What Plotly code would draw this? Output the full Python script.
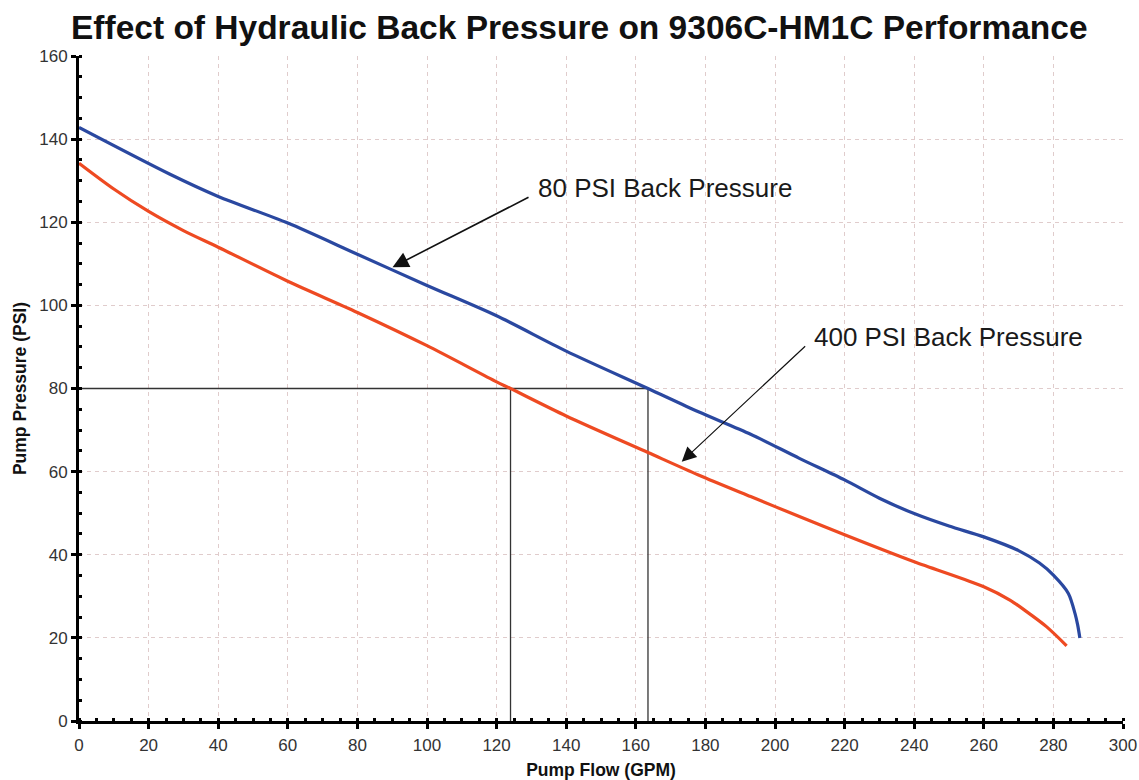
import plotly.graph_objects as go

# ---- Data ----
flow_80psi = [0, 26, 40, 60, 80, 100, 120, 140, 163.5, 178, 193, 207,
              220, 230, 240, 250, 260, 270, 276, 280, 284.3, 286.2, 287, 287.6]
pres_80psi = [142.8, 131.6, 126.2, 119.8, 112.3, 104.8, 97.5, 89.0, 80.0, 74.4,
              69.0, 63.2, 58.0, 53.6, 49.9, 46.9, 44.3, 41.0, 38.0, 35.1, 30.7,
              25.9, 23.0, 20.0]

flow_400psi = [0, 10, 20, 30, 40, 60, 80, 100, 120, 124, 140, 163.5, 178, 193,
               207, 220, 240, 260, 267.5, 272, 278, 283.8]
pres_400psi = [134.2, 128.0, 122.6, 118.0, 114.0, 105.8, 98.3, 90.3, 81.6, 80.0,
               73.4, 64.6, 59.2, 54.0, 49.2, 44.8, 38.3, 32.3, 29.1, 26.5, 22.7,
               18.1]

ref_pressure = 80
ref_flows = [124, 163.5]

x_ticks = list(range(0, 301, 20))
y_ticks = list(range(0, 161, 20))

FONT = "Liberation Sans, Arial, Helvetica, sans-serif"
BLUE = "#2a48a0"
RED = "#ee4a22"
GRID = "#e0cccc"

fig = go.Figure()

# reference lines
fig.add_trace(go.Scatter(x=[0, max(ref_flows)], y=[ref_pressure, ref_pressure],
                         mode="lines", line=dict(color="#333333", width=1.3),
                         hoverinfo="skip", showlegend=False))
for f in ref_flows:
    fig.add_trace(go.Scatter(x=[f, f], y=[0, ref_pressure], mode="lines",
                             line=dict(color="#333333", width=1.3),
                             hoverinfo="skip", showlegend=False))

fig.add_trace(go.Scatter(x=flow_80psi, y=pres_80psi, mode="lines",
                         name="80 PSI Back Pressure",
                         line=dict(color=BLUE, width=3.2, shape="spline", smoothing=0.8),
                         showlegend=False))
fig.add_trace(go.Scatter(x=flow_400psi, y=pres_400psi, mode="lines",
                         name="400 PSI Back Pressure",
                         line=dict(color=RED, width=3.2, shape="spline", smoothing=0.8),
                         showlegend=False))

# annotations: arrows
fig.add_annotation(x=90.1, y=109.2, ax=129.6, ay=126.2, xref="x", yref="y",
                   axref="x", ayref="y", text="", showarrow=True,
                   arrowhead=2, arrowsize=2.0, arrowwidth=1.6, arrowcolor="#111111")
fig.add_annotation(x=173.2, y=62.4, ax=209.1, ay=90.5, xref="x", yref="y",
                   axref="x", ayref="y", text="", showarrow=True,
                   arrowhead=2, arrowsize=2.4, arrowwidth=1.2, arrowcolor="#111111")
fig.add_annotation(x=131.2, y=128.2, xref="x", yref="y", text="80 PSI Back Pressure",
                   showarrow=False, xanchor="left", yanchor="middle",
                   font=dict(family=FONT, size=26, color="#1a1a1a"))
fig.add_annotation(x=210.6, y=92.5, xref="x", yref="y", text="400 PSI Back Pressure",
                   showarrow=False, xanchor="left", yanchor="middle",
                   font=dict(family=FONT, size=26, color="#1a1a1a"))

axis_common = dict(
    showgrid=True, gridcolor=GRID, gridwidth=1, griddash="4px,4px",
    showline=True, linecolor="black", linewidth=3,
    ticks="outside", ticklen=5, tickwidth=2.5, tickcolor="black",
    tickfont=dict(family=FONT, size=17, color="#333333"),
    zeroline=False, automargin=False,
    minor=dict(ticks="inside", ticklen=3, tickwidth=2.5, tickcolor="black",
               dtick=5, showgrid=False),
)

fig.update_xaxes(range=[0, 300], tickvals=x_ticks, ticklabelstandoff=2, **axis_common,
                 title=dict(text="<b>Pump Flow (GPM)</b>", standoff=12,
                            font=dict(family=FONT, size=17.5, color="#111111")))
fig.update_yaxes(range=[0, 160], tickvals=y_ticks, **axis_common,
                 title=dict(text="<b>Pump Pressure (PSI)</b>", standoff=9,
                            font=dict(family=FONT, size=17.5, color="#111111")))

fig.update_layout(
    width=1139, height=780,
    margin=dict(l=79, r=16, t=56, b=59),
    plot_bgcolor="white", paper_bgcolor="white",
    title=dict(text="<b>Effect of Hydraulic Back Pressure on 9306C-HM1C Performance</b>",
               x=71 / 1139, xanchor="left", xref="container",
               y=1 - 27 / 780, yanchor="middle", yref="container",
               font=dict(family=FONT, size=33.5, color="#111111")),
    showlegend=False,
)

fig.write_html("out.html", config={"displayModeBar": False},
               post_script="document.body.style.margin='0px';")
